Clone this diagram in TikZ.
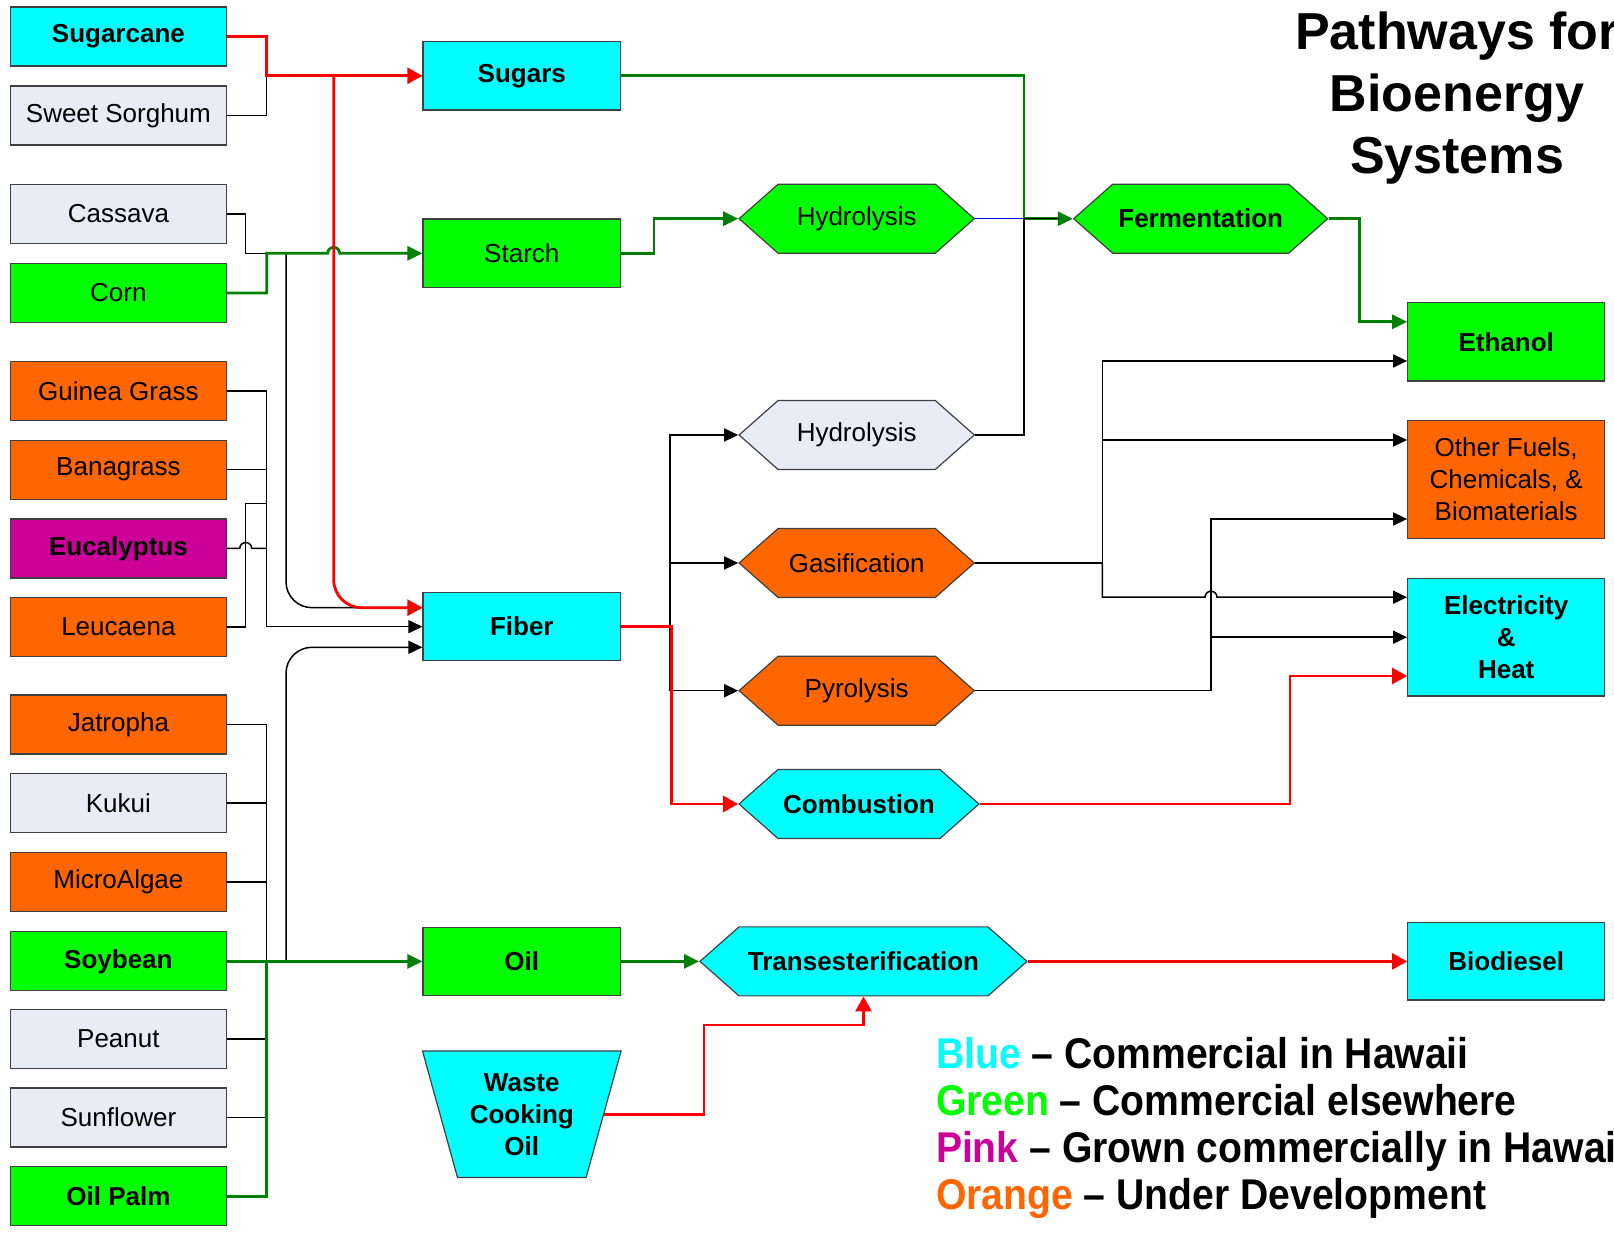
\documentclass[tikz,border=0pt]{standalone}
\usepackage{fontspec}
\setmainfont{Liberation Sans}
\newfontfamily\legendfont[FakeStretch=0.91]{Liberation Sans}
\usetikzlibrary{arrows.meta,shapes.symbols,shapes.geometric}
\definecolor{hcyan}{RGB}{0,255,255}
\definecolor{hgreen}{RGB}{0,255,0}
\definecolor{hgrey}{RGB}{231,236,247}
\definecolor{horange}{RGB}{255,102,0}
\definecolor{hpink}{RGB}{204,0,153}
\definecolor{lgreen}{RGB}{0,128,0}
\definecolor{lred}{RGB}{255,0,0}
\definecolor{lblue}{RGB}{0,0,255}
\begin{document}
\begin{tikzpicture}[x=0.5pt,y=-0.5pt]
		\tikzset{crop/.style = {draw=black!75, line width=.6pt, inner sep=0pt, minimum width=108pt, minimum height=29.5pt, align=center, font=\fontsize{13}{16}\selectfont}}
		\tikzset{heavy/.style = {font=\fontsize{13}{16}\selectfont\bfseries}}
		\tikzset{mid/.style = {crop, minimum width=98.8pt, minimum height=34.2pt}}
		\tikzset{prod/.style = {crop, minimum width=98.5pt}}
		\tikzset{proc/.style = {shape=signal, signal to=west and east, signal pointer angle=83, draw=black!75, line width=.6pt, inner sep=0pt, minimum width=117.6pt, minimum height=34.5pt, font=\fontsize{13}{16}\selectfont}}
		\tikzset{blk/.style = {draw=black, line width=.75pt}}
		\tikzset{blkarr/.style = {blk, -{Triangle[length=7pt,width=6.5pt]}}}
		\tikzset{grn/.style = {draw=lgreen, line width=1.4pt}}
		\tikzset{grnarr/.style = {grn, -{Triangle[length=7.5pt,width=7pt]}}}
		\tikzset{redline/.style = {draw=lred, line width=1.4pt}}
		\tikzset{redarr/.style = {redline, -{Triangle[length=7.5pt,width=8pt]}}}
		\tikzset{title/.style = {anchor=base, inner sep=0pt, font=\fontsize{26}{31}\selectfont\bfseries}}
		\tikzset{legend/.style = {anchor=base west, inner sep=0pt, font=\legendfont\fontsize{21.5}{24}\selectfont\bfseries}}
		\useasboundingbox (0,0) rectangle (1614,1234);
		\clip (0,0) rectangle (1614,1234);
		% crops
		\node[crop, fill=hcyan, heavy] (sugarcane) at (118.4,36.5) {Sugarcane};
		\node[crop, fill=hgrey] (sorghum) at (118.4,115.5) {Sweet Sorghum};
		\node[crop, fill=hgrey] (cassava) at (118.4,214) {Cassava};
		\node[crop, fill=hgreen] (corn) at (118.4,293) {Corn};
		\node[crop, fill=horange] (guinea) at (118.4,391) {Guinea Grass};
		\node[crop, fill=horange] (banagrass) at (118.4,469.7) {Banagrass};
		\node[crop, fill=hpink, heavy] (eucalyptus) at (118.4,548.5) {Eucalyptus};
		\node[crop, fill=horange] (leucaena) at (118.4,627) {Leucaena};
		\node[crop, fill=horange] (jatropha) at (118.4,724.6) {Jatropha};
		\node[crop, fill=hgrey] (kukui) at (118.4,803) {Kukui};
		\node[crop, fill=horange] (microalgae) at (118.4,881.8) {MicroAlgae};
		\node[crop, fill=hgreen, heavy] (soybean) at (118.4,961.4) {Soybean};
		\node[crop, fill=hgrey] (peanut) at (118.4,1039) {Peanut};
		\node[crop, fill=hgrey] (sunflower) at (118.4,1117.6) {Sunflower};
		\node[crop, fill=hgreen, heavy] (oilpalm) at (118.4,1196.2) {Oil Palm};
		% feedstocks
		\node[mid, fill=hcyan, heavy] (sugars) at (521.8,75.8) {Sugars};
		\node[mid, fill=hgreen] (starch) at (521.8,253.3) {Starch};
		\node[mid, fill=hcyan, heavy] (fiber) at (521.8,626.7) {Fiber};
		\node[mid, fill=hgreen, heavy] (oil) at (521.8,961.4) {Oil};
		\node[trapezium, trapezium angle=71, shape border rotate=180, trapezium stretches=true, minimum width=99.85pt, minimum height=63.25pt, draw=black!75, line width=.6pt, inner sep=0pt, fill=hcyan, align=center, heavy] (waste) at (521.8,1114.2) {Waste\\Cooking\\Oil};
		% processes
		\node[proc, fill=hgreen] (hydro1) at (856.7,218.7) {Hydrolysis};
		\node[proc, fill=hgrey] (hydro2) at (856.7,435) {Hydrolysis};
		\node[proc, fill=horange] (gasif) at (856.7,563) {Gasification};
		\node[proc, fill=horange] (pyro) at (856.7,690.7) {Pyrolysis};
		\node[proc, fill=hcyan, heavy, minimum width=120pt] (combust) at (859,804) {Combustion};
		\node[proc, fill=hcyan, heavy, minimum width=163.5pt] (trans) at (863.5,961.4) {Transesterification};
		\node[proc, fill=hgreen, heavy, minimum width=127pt] (ferment) at (1200.7,218.7) {Fermentation};
		% products
		\node[prod, fill=hgreen, heavy, minimum height=39.2pt] (ethanol) at (1506.2,341.8) {Ethanol};
		\node[prod, fill=horange, minimum height=58.8pt] (other) at (1506.2,479.5) {Other Fuels,\\Chemicals, \&\\Biomaterials};
		\node[prod, fill=hcyan, heavy, minimum height=58.8pt] (elec) at (1506.2,637.2) {Electricity\\\&\\Heat};
		\node[prod, fill=hcyan, heavy, minimum height=38.6pt] (biodiesel) at (1506.2,961.4) {Biodiesel};
		% title and legend
		\foreach \t [count=\i] in {Pathways for, Bioenergy, Systems}
			\node[title] (title\i) at (1457,{49.4+62*(\i-1)}) {\t};
		\node[legend] (leg1) at (935.6,1068.5) {\textcolor{hcyan}{Blue} – Commercial in Hawaii};
		\node[legend] (leg2) at (935.6,1115.8) {\textcolor{hgreen}{Green} – Commercial elsewhere};
		\node[legend] (leg3) at (935.6,1163) {\textcolor{hpink}{Pink} – Grown commercially in Hawaii};
		\node[legend] (leg4) at (935.6,1209.5) {\textcolor{horange}{Orange} – Under Development};
		% junctions
		\coordinate (jsug) at (266.7,75.8);
		\coordinate (jred) at (333.7,75.8);
		\coordinate (jcas) at (245.7,253.3);
		\coordinate (jst) at (266.7,253.3);
		\coordinate (jblk) at (286,253.3);
		\coordinate (jfib) at (266.7,626.7);
		\coordinate (jleu) at (245.7,503.7);
		\coordinate (joil) at (266.7,961.4);
		\coordinate (jsoy) at (286,961.4);
		\coordinate (fib1) at ([yshift=9.5pt]fiber.west);
		\coordinate (fib3) at ([yshift=-10.3pt]fiber.west);
		\coordinate (jfer) at (1024,218.7);
		\coordinate (jproc) at (670,626.7);
		\coordinate (jcomb) at (671.5,626.7);
		\coordinate (jgas) at (1102.3,563);
		\coordinate (jpyr) at (1211,690.7);
		\coordinate (hopE) at (1211,597.2);
		\coordinate (eth1) at ([yshift=10pt]ethanol.west);
		\coordinate (eth2) at ([yshift=-9.6pt]ethanol.west);
		\coordinate (oth1) at ([yshift=19.75pt]other.west);
		\coordinate (oth2) at ([yshift=-19.75pt]other.west);
		\coordinate (ele1) at ([yshift=20pt]elec.west);
		\coordinate (ele3) at ([yshift=-19.4pt]elec.west);
		\coordinate (jwst) at (704,1025);
		% crops to feedstocks
		\path[blk] (sorghum.east) -| (jsug);
		\path[blk] (cassava.east) -| (jcas) -- (jst);
		\path[blkarr, rounded corners=13pt] (jblk) |- (fib1);
		\path[grnarr] (corn.east) -| (jst) -- ([xshift=-3pt]jred |- jst) arc[start angle=180, end angle=0, radius=3pt] -- (starch.west);
		\path[blk] (guinea.east) -| (jfib);
		\path[blkarr] (jfib) -- (fiber.west);
		\path[blk] (banagrass.east) -- (banagrass.east -| jfib);
		\path[blk] (eucalyptus.east) -- ([xshift=-3pt]eucalyptus.east -| jleu) arc[start angle=180, end angle=0, radius=3pt] -- (eucalyptus.east -| jfib);
		\path[blk] (leucaena.east) -| (jleu) -- (jleu -| jfib);
		\path[blk] (jatropha.east) -| (sunflower.east -| joil);
		\foreach \n in {kukui,microalgae,peanut,sunflower}
			\path[blk] (\n.east) -- (\n.east -| joil);
		\path[blkarr, rounded corners=13pt] (jsoy) |- (fib3);
		\path[grn] (oilpalm.east) -| (joil);
		\path[grnarr] (soybean.east) -- (oil.west);
		\path[redarr] (sugarcane.east) -| (jsug) -- (sugars.west);
		\path[redarr, rounded corners=14pt] (jred) |- (fib1);
		% feedstocks to processes
		\path[grnarr] (starch.east) -- ++(32.7,0) |- (hydro1.west);
		\path[grnarr] (sugars.east) -| (jfer) -- (ferment.west);
		\path[draw=lblue, line width=.6pt] (hydro1.east) -- (jfer);
		\path[blk] (hydro2.east) -| (jfer) -- ([xshift=-7pt]ferment.west);
		\path[blk] (fiber.east) -- (jproc);
		\path[blkarr] (jproc) |- (hydro2.west);
		\path[blkarr] (jproc) |- (gasif.west);
		\path[blkarr] (jproc) |- (pyro.west);
		\path[redarr] (fiber.east) -- (jcomb) |- (combust.west);
		\path[grnarr] (oil.east) -- (trans.west);
		\path[redarr] (waste.0) -| (jwst) -| (trans.south);
		% processes to products
		\path[grnarr] (ferment.east) -- ++(30.5,0) |- (eth1);
		\path[blk] (gasif.east) -- (jgas);
		\path[blkarr] (jgas) |- (eth2);
		\path[blkarr] (jgas) |- (oth1);
		\path[blkarr] (jgas) |- ([xshift=-3pt]hopE) arc[start angle=180, end angle=0, radius=3pt] -- (ele1);
		\path[blk] (pyro.east) -- (jpyr);
		\path[blkarr] (jpyr) |- (oth2);
		\path[blkarr] (jpyr) |- (elec.west);
		\path[redarr] (combust.east) -- ++(310,0) |- (ele3);
		\path[redarr] (trans.east) -- (biodiesel.west);
	\end{tikzpicture}
\end{document}
